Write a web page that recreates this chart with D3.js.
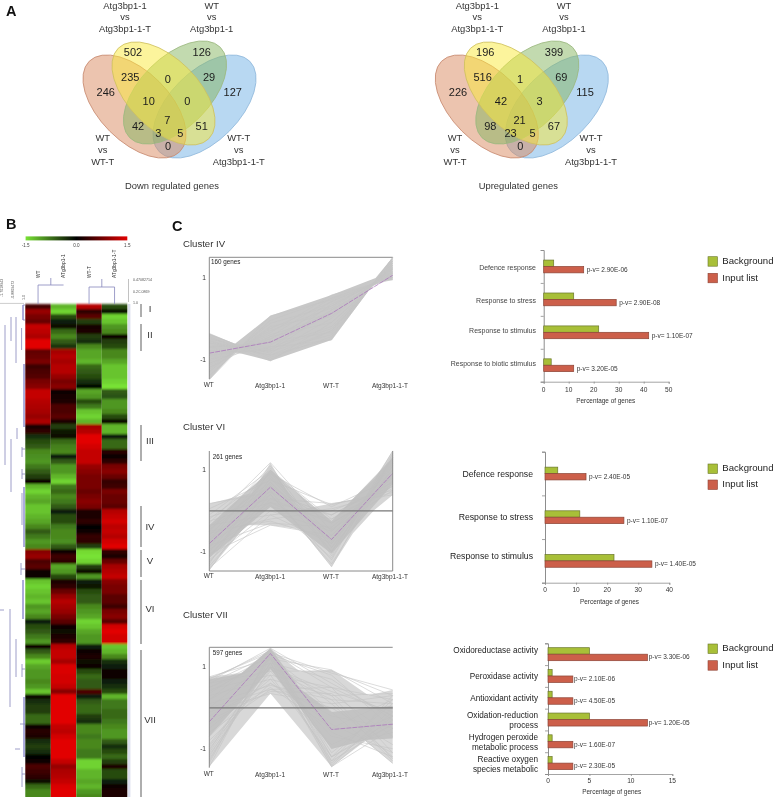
<!DOCTYPE html>
<html><head><meta charset="utf-8">
<script src="https://d3js.org/d3.v7.min.js"></script>
<style>
html,body{margin:0;padding:0;background:#fff}
svg{display:block;filter:blur(0.35px)}
text{font-family:"Liberation Sans",Arial,sans-serif;fill:#2a2a2a}
</style></head><body>
<svg id="c" width="775" height="797"></svg>
<script>
/* ---------- Venn data ---------- */
const vennSets = [
 ["WT","vs","WT-T"],
 ["Atg3bp1-1","vs","Atg3bp1-1-T"],
 ["WT","vs","Atg3bp1-1"],
 ["WT-T","vs","Atg3bp1-1-T"]];
const vennDown = [502,126,235,0,29,246,127,10,0,7,42,51,3,5,0];
const vennUp   = [196,399,516,1,69,226,115,42,3,21,98,67,23,5,0];
const vennTitles = ["Down regulated genes","Upregulated genes"];

/* ---------- Heatmap data (row by row, four columns) ---------- */
const heatSamples = ["WT","ATg3bp1-1","WT-T","ATg3bp1-1-T"];
const heatWT = [.45,1,.8,.7,1.3,1.25,1.15,1.5,1.5,.65,.7,.8,.4,.5,.55,.8,.9,1.3,1.3,1.2,1.15,
 1.1,1,1.15,.2,.3,-.3,-.5,-.6,-.9,-.95,-1,-.8,-.6,-.4,.05,-1.2,-1.4,-1.2,-1.1,-1.3,-1.3,-1.2,-1.1,-.9,-.6,-.8,-1,-.9,.9,1,.5,.6,.1,.1,-1.3,-1.4,-1.3,-1.2,
 -1.3,-1,-1.1,-.9,-.2,-.5,-.6,-.8,-1,.1,-.6,-.9,-1.35,-1.1,-1,-1,-.9,-1,-1.3,-.1,-.3,-.4,-.4,-.7,-.7,.1,.25,.2,-.3,-.4,-.3,0,.1,.5,.4,.3,-.1,-.7,-.9,-.9];
const heatAtg = [-1.2,-1.4,-.5,-.2,-.1,-.7,-.9,-.6,-.35,1.1,1.2,1.1,1.2,1.2,1,.8,.9,.1,.15,.2,.5,
 .5,.6,.2,-.4,-.15,-.1,-.7,-.85,-.9,-.2,-.6,-1,-1,-1.2,-1.4,-.8,-.7,-.9,-.8,-.6,-.2,-.5,-.5,-.8,-.9,-.9,-.95,-.6,.05,.4,.3,-1.1,-1,-.5,.2,.3,.7,1,
 1.2,1.1,1,.8,.6,.1,-.1,.2,.3,1.2,1.3,1.3,1.1,1.45,1.45,1.4,1.4,1.3,.9,1.5,1.5,1.5,1.5,1.5,1.5,1.3,1.25,1.4,1.5,1.5,1.5,1.5,1.3,1,1.15,1.2,1.3,1.45,1.5,1.5];
const heatWTT = [1.2,.3,.6,-.4,.15,.2,-.4,-.3,-.9,-1.1,-1.1,-1.2,-.7,-.6,-.5,-.3,-.05,-1.1,-1,-.5,-.8,
 -1.3,-1.4,-1.2,1.1,1.2,1.5,1.5,1.4,1.3,1.3,1.3,1,.9,.8,.8,.8,.7,.8,.9,.8,.2,.2,.3,0,.1,.35,.3,-.4,-1.45,-1.5,-1.4,-.4,-.1,-1,-.2,-.15,-.5,-.6,
 -.6,-.9,-1,-1.1,-1.4,-1.3,-1.1,-1,-1,-.2,.1,.2,-.1,.1,-.5,-.7,-.6,-.6,.5,-.2,-.6,-.7,-.7,-.4,-.3,-.9,-.9,-.8,-.9,-.9,-.8,-.8,-1.4,-1.4,-1.2,-1.2,-1.1,-1.2,-1,-.9];
const heatAtgT = [-.5,-.15,-1.4,-1.3,-1,-.9,.05,-.4,-.5,-.9,-.9,-1.1,-1.3,-1.3,-1.3,-1.4,-1.5,-.6,-.55,-1,-1,
 -.9,-.5,-.1,-1.2,-1.2,-.2,-.7,-.7,.25,.05,.3,.8,.9,.7,.35,.4,.8,.7,.7,.6,1.2,1.3,1.4,1.25,1.3,1.2,1.4,1.5,.3,.2,.7,1.1,1.2,1.3,.9,.8,.8,.6,
 .6,.4,.8,.9,.6,1.4,1.5,1.4,1.4,-1.3,-1.2,-.9,-.3,-.2,.05,.05,-.2,-.3,-.5,-1.2,-.8,-.8,-.7,-.7,-.8,-.9,-1,-1,-.6,-.3,-.5,-.7,-.4,.2,-.5,-.5,-.2,.1,.2,.2];
const heatColumns = [heatWT,heatAtg,heatWTT,heatAtgT];
const colorTicks = ["-1.5","0.0","1.5"];
const clusterNames  = ["I","II","III","IV","V","VI","VII"];
const clusterStart  = [0,4,24.2,40.4,49.2,55.2,69.2];
const clusterEnd    = [2.6,9.4,31.4,48.6,54.6,68,98.6];
/* dendrogram branches: [height, first row, last row] */
const rowBranches = [[20,4.2,32.2],[14,2.6,7.4],[9,2.6,11.8],[3.4,4.8,9.2],[2,.2,3.2],[1,12,24.6],[14,27,37.6],[8,24.8,27],[3,28.6,30.6],[3,33,35],[3,37.8,44.2],[1,36.6,48.6],[4,51.8,54.2],[2,55.2,63],[15,61,80.6],[9,67,74.6],[3,72,74.6],[1,78.6,90.6],[3,92.6,96.6]];
const rowStubs = [[21,25,61.2],[0,5,84],[5,10,89],[0,2,.2],[0,2,3.2],[0,3,29],[0,3,34],[0,4,53],[0,3,73],[0,3,94]];

/* ---------- Cluster profiles ---------- */
const profileX = ["WT","Atg3bp1-1","WT-T","Atg3bp1-1-T"];
const clusterTitles = ["Cluster IV","Cluster VI","Cluster VII"];
const geneCounts = ["160 genes","261 genes","597 genes"];
const linesIV = [[-.37,-1,-.3,1.35],[-.4,-.95,-.45,1.45],[-.45,-1.04,-.1,1.2],[-.5,-.85,0,1.25],[-.55,-.9,-.5,1.48],[-.6,-.8,.2,1.1],[-.65,-.75,.35,1.05],[-.7,-.7,-.2,1.3],[-.75,-.65,.1,1.2],[-.8,-.6,.42,1],[-.9,-.55,-.35,1.4],[-.95,-.5,.3,1.1],[-1,-.45,.5,1],[-1.05,-.4,.05,1.22],[-1.1,-.35,.57,.95],[-1.15,-.3,.25,1.15],[-1.2,-.25,.4,1.05],[-1.25,-.2,.1,1.2],[-1.3,-.12,.3,1.12],[-1.4,-.05,.48,1],[-1.5,.06,.45,.98],[-1,-.7,-.53,1.48],[-.8,-.8,-.4,1.4],[-.7,-.6,.2,1.1],[-1.1,-.5,.15,1.15],[-.9,-.75,-.25,1.3],[-1.2,-.45,-.1,1.25],[-.6,-.9,-.3,1.35]];
const linesVI = [[.18,.45,-.1,.7],[.05,.75,.15,.5],[-.1,1,-.2,.6],[-.15,.3,.18,.39],[-.2,.9,.1,.8],[-.3,1.18,-.5,1],[-.35,-.1,.05,.45],[-.45,.6,-.3,.55],[-.5,1.1,-.9,1.3],[-.55,-.2,0,.6],[-.6,.85,-.6,.9],[-.7,.2,-.1,.7],[-.75,1.05,-1.1,1.47],[-.85,-.3,-.4,.8],[-.9,.95,-1,1.2],[-.95,.1,-.2,.65],[-1,.7,-.8,1],[-1.05,-.35,-.6,.75],[-1.1,.5,-1.37,1.35],[-1.15,.8,-.7,1.1],[-1.2,0,-.5,.9],[-1.25,.4,-1.2,1.4],[-1.3,1,-.9,.9],[-1.35,.3,-.3,.6],[-1.45,.65,-1,1.25],[-1.4,-.1,-.8,1],[-.65,.4,-1.3,1.1],[-.4,.7,-.75,1.15],[-.25,.2,-.45,.5],[-.5,-.25,-.7,.85],[-.8,.15,-1.15,1.3]];
const linesVII = [[.76,1.2,.93,.1],[.72,1.35,.85,.44],[.65,1.46,.6,-.2],[.6,.9,.9,.3],[.5,1.1,.7,-.3],[.45,.8,.5,.2],[.35,1.3,.8,-.5],[.3,.7,.3,.35],[.2,1,.4,-.1],[.1,.55,.2,.1],[0,.45,.5,-.2],[-.1,.35,.1,.3],[-.2,.6,-.2,-.5],[-.3,.4,.35,-.7],[-.4,.5,-.5,.2],[-.5,.7,-.9,-.2],[-.6,.45,0,-.9],[-.7,.8,-1.2,-.3],[-.8,.6,-.4,-1.1],[-.9,1,-1.3,-.4],[-1,.9,-.7,-1],[-1.1,1.1,-1.44,-.5],[-1.2,1.2,-.1,-1.36],[-1.3,1.3,-1,-.6],[-1.44,1.4,-1.2,-.4],[-1.35,1.35,-.6,-1.2],[-1.25,1.1,-1.35,-.1],[-1.15,.95,.2,-1.3],[-1.05,1.25,-1.1,.1],[-.95,1,.3,-1.25],[.7,1.4,-1.4,0],[.6,1.3,-1.3,.3],[.4,1.2,-1.2,.2],[.2,1.4,.5,-1.1],[.5,1.25,.1,-1.2],[0,1.2,-1.44,-.2]];
/* outline of each bundle: [sample position, value] */
const upperIV  = [[0,-.37],[.42,-.62],[1,.06],[2,.57],[2.72,.98],[3,1.49]];
const lowerIV  = [[0,-1.5],[.42,-.82],[1,-1.04],[2,-.53],[2.72,.9],[3,.93]];
const upperVI  = [[0,.18],[.69,.43],[1,1.18],[1.45,.02],[2,.18],[2.33,.27],[2.71,.8],[3,1.47]];
const lowerVI  = [[0,-1.45],[.6,-.35],[1,-.35],[1.5,-.45],[2,-1.37],[2.35,-.55],[2.7,.02],[3,.39]];
const upperVII = [[0,.76],[.53,.86],[1,1.46],[1.48,.89],[2,.93],[2.6,.31],[3,.44]];
const lowerVII = [[0,-1.44],[1,.35],[2,-1.44],[2.55,-.81],[3,-1.36]];
const coreUpperVI  = [[0,-.35],[1,1],[2,-.25],[3,1.3]];
const coreLowerVI  = [[0,-1.15],[1,.1],[2,-1.05],[3,.65]];
const coreUpperVII = [[0,.7],[.53,.84],[1,1.46],[1.5,.45],[2,-.1],[3,.05]];
const coreLowerVII = [[0,-.7],[1,.95],[2,-1],[2.55,-.79],[3,-.75]];
const meanIV  = [-.85,-.58,.12,1.05];
const meanVI  = [-.8,.58,-.7,.92];
const meanVII = [-.34,1.33,-.53,-.4];

/* ---------- Enrichment bars ---------- */
const barCats1 = ["Defence response","Response to stress","Response to stimulus","Response to biotic stimulus"];
const barBg1   = [4,12,22,3];
const barIn1   = [16,29,42,12];
const barP1    = ["2.90E-06","2.90E-08","1.10E-07","3.20E-05"];
const barTicks1 = [0,10,20,30,40,50];
const barCats2 = ["Defence response","Response to stress","Response to stimulus"];
const barBg2   = [4.1,11.2,22.2];
const barIn2   = [13.2,25.4,34.4];
const barP2    = ["2.40E-05","1.10E-07","1.40E-05"];
const barTicks2 = [0,10,20,30,40];
const barCats3 = ["Oxidoreductase activity","Peroxidase activity","Antioxidant activity","Oxidation-reduction|process","Hydrogen peroxide|metabolic process","Reactive oxygen|species metabolic"];
const barBg3   = [5,.5,.5,5,.5,.5];
const barIn3   = [12,3,3,12,3,3];
const barP3    = ["3.30E-06","2.10E-06","4.50E-05","1.20E-05","1.60E-07","2.30E-05"];
const barTicks3 = [0,5,10,15];
const legendNames = ["Background","Input list"];

/* ========== drawing ========== */
const svg = d3.select("#c");
const label=(g,x,y,t,size,anchor="start",fill=null,weight=null)=>{
  const e=g.append("text").attr("x",x).attr("y",y).attr("font-size",size).attr("text-anchor",anchor).text(t);
  if(fill)e.style("fill",fill); if(weight)e.attr("font-weight",weight); return e;};
const panelLetter=(x,y,t)=>label(svg,x,y,t,14.5,"start","#111","bold");
panelLetter(6,16,"A");panelLetter(6,229,"B");panelLetter(172,231,"C");

/* Venn */
const vennEll=[{cx:204.5,cy:106.5,rot:-45,fill:"#71b1e5",stroke:"#90b8dc"},
               {cx:134.5,cy:106.5,rot:45,fill:"#d98a60",stroke:"#c88a70"},
               {cx:175,cy:92.5,rot:-45,fill:"#85b560",stroke:"#9cb880"},
               {cx:163.5,cy:93.5,rot:45,fill:"#f9e939",stroke:"#cfc060"}];
const vennPos=[[133,51.7],[201.7,51.7],[130.3,77],[167.7,79],[209,77],[105.7,92],[232.7,92],[148.7,101],[187.3,101],[167.3,120],[138,126],[201.7,126],[158.3,133.3],[180.3,133.3],[168,146]];
const vennLabelPos=[[102.7,140.7],[125,8.5],[211.7,8.5],[238.7,140.7]];
[vennDown,vennUp].forEach((vals,k)=>{
  const g=svg.append("g").attr("transform",`translate(${k*352.3},0)`);
  vennEll.forEach(e=>{
    g.append("ellipse").attr("rx",64).attr("ry",35)
     .attr("transform",`translate(${e.cx},${e.cy}) rotate(${e.rot})`)
     .attr("fill",e.fill).attr("fill-opacity",.5).attr("stroke",e.stroke).attr("stroke-width",.8);
  });
  vals.forEach((v,i)=>label(g,vennPos[i][0],vennPos[i][1]+3.8,v,11,"middle","#1c1c1c"));
  vennSets.forEach((lines,i)=>lines.forEach((t,j)=>label(g,vennLabelPos[i][0],vennLabelPos[i][1]+j*11.9,t,9.4,"middle","#333")));
  label(g,k?166:172,189.3,vennTitles[k],9.4,"middle","#333");
});

/* Heatmap */
const color=d3.scaleLinear().domain([-1.5,0,1.5]).range(["#78e234","#000000","#e20000"]);
const nRows=heatWT.length;
const xCol=d3.scaleBand().domain(heatSamples).range([25.3,127.3]);
const yRow=d3.scaleLinear().domain([0,nRows]).range([304,304+5*nRows]);
const xDist=d3.scaleLinear().domain([0,25]).range([25,0]);
const heatClip=svg.append("clipPath").attr("id","hc");
heatClip.append("rect").attr("x",0).attr("y",200).attr("width",175).attr("height",597);
const hm=svg.append("g").attr("clip-path","url(#hc)");
const hblur=svg.append("filter").attr("id","hb").attr("x",-.02).attr("width",1.04);
hblur.append("feGaussianBlur").attr("stdDeviation","0 0.8");
const soft=svg.append("filter").attr("id","soft");
soft.append("feGaussianBlur").attr("stdDeviation","0.5");
const hmCells=hm.append("g").attr("filter","url(#hb)");
heatColumns.forEach((col,c)=>{
  hmCells.selectAll(null).data(col).join("rect")
    .attr("x",xCol(heatSamples[c])).attr("width",xCol.bandwidth())
    .attr("y",(d,i)=>yRow(i)).attr("height",(d,i)=>yRow(i+1)-yRow(i)+.3)
    .attr("fill",d=>color(d));
});
hm.append("rect").attr("x",128).attr("y",304).attr("width",2.4).attr("height",493).attr("fill","#dcdfee");
const dendro="#8585bb";
const seg=(g,x1,y1,x2,y2,c=dendro,w=.8)=>g.append("line").attr("x1",x1).attr("y1",y1).attr("x2",x2).attr("y2",y2).attr("stroke",c).attr("stroke-width",w);
rowBranches.forEach(([h,a,b])=>seg(hm,xDist(h),yRow(a),xDist(h),yRow(b),h<=2?"#5a5ab8":dendro,h<=2?1:.8));
rowStubs.forEach(([h1,h2,r])=>seg(hm,xDist(h1),yRow(r),xDist(h2),yRow(r)));
/* column dendrogram */
const colC=s=>xCol(s)+xCol.bandwidth()/2;
seg(svg,colC("WT"),285,colC("ATg3bp1-1"),285);seg(svg,colC("WT"),285,colC("WT"),304);seg(svg,(colC("WT")+colC("ATg3bp1-1"))/2,278,(colC("WT")+colC("ATg3bp1-1"))/2,285);
seg(svg,colC("WT-T"),287,colC("ATg3bp1-1-T"),287);seg(svg,colC("WT-T"),287,colC("WT-T"),304);seg(svg,colC("ATg3bp1-1-T"),287,colC("ATg3bp1-1-T"),304);
seg(svg,(colC("WT-T")+colC("ATg3bp1-1-T"))/2,279,(colC("WT-T")+colC("ATg3bp1-1-T"))/2,287);
heatSamples.forEach(s=>{
  label(svg,0,0,s,4.9,"start","#333").attr("transform",`translate(${colC(s)+1.5},278) rotate(-90)`);
});
/* colour bar */
const barX=d3.scaleLinear().domain([-1.5,1.5]).range([25.6,127.3]);
const grad=svg.append("linearGradient").attr("id","cb");
color.domain().forEach(d=>grad.append("stop").attr("offset",(d+1.5)/3).attr("stop-color",color(d)));
svg.append("rect").attr("x",barX(-1.5)).attr("y",236.4).attr("width",barX(1.5)-barX(-1.5)).attr("height",4).attr("fill","url(#cb)");
colorTicks.forEach(t=>label(svg,barX(+t),247,t,4.6,"middle","#444"));
/* small scales around the heat map */
seg(svg,128.5,279,128.5,302,"#999",.6);
[["0.47082714",281],["0.2C.0869",292.5],["1.0",304]].forEach(d=>label(svg,133,d[1],d[0],3.6,"start","#555"));
seg(svg,0,303.4,24,303.4,"#aaa",.6);
[["-1.7018943",2.5,297],["-0.8809472",13.5,299],["1.0",25,300]].forEach(d=>label(svg,0,0,d[0],3.6,"start","#555").attr("transform",`translate(${d[1]},${d[2]}) rotate(-90)`));
/* cluster brackets */
const clusterLabelY=[312,338,444,530,564,612,723];
clusterNames.forEach((n,i)=>{
  seg(svg,141,yRow(clusterStart[i]),141,yRow(clusterEnd[i]),"#8c8c8c",1.4);
  label(svg,150,clusterLabelY[i],n,9.6,"middle","#333");
});

/* Cluster profile plots */
const plots=[
 {top:257.3,bot:379,one:277.3,minus:359.3,lines:linesIV,mean:meanIV,zero:false,frame:"tl",gy:264,gx:211,ty:247,xl:387.7,up:upperIV,lo:lowerIV,shade:"#c8c8c8"},
 {top:451,bot:571,one:470,minus:551.7,lines:linesVI,mean:meanVI,zero:true,frame:"lbr",gy:459,gx:212.7,ty:430,xl:579,up:upperVI,lo:lowerVI,shade:"#d6d6d6",cu:coreUpperVI,cl:coreLowerVI},
 {top:647.3,bot:767.7,one:667,minus:748.7,lines:linesVII,mean:meanVII,zero:true,frame:"tl",gy:655,gx:212.7,ty:618,xl:776.7,up:upperVII,lo:lowerVII,shade:"#d8d8d8",cu:coreUpperVII,cl:coreLowerVII}];
const xProf=d3.scalePoint().domain(profileX).range([209.3,392.7]);
const xPos=d3.scaleLinear().domain([0,3]).range([209.3,392.7]);
const profLabelX=[208.7,270,331,390];
plots.forEach((p,k)=>{
  const y=d3.scaleLinear().domain([-1,1]).range([p.minus,p.one]);
  const g=svg.append("g");
  const line=d3.line().x((d,i)=>xProf(profileX[i])).y(d=>y(d));
  const outline=d3.line().x(d=>xPos(d[0])).y(d=>y(d[1]));
  const band=(u,l)=>outline(u.concat(l.slice().reverse()))+"Z";
  const bundle=g.append("g").attr("filter","url(#soft)");
  bundle.append("path").attr("d",band(p.up,p.lo)).attr("fill",p.shade);
  bundle.selectAll("path.l").data(p.lines).join("path").attr("class","l").attr("d",line)
    .attr("fill","none").attr("stroke","#c4c4c4").attr("stroke-width",.6);
  if(p.cu)bundle.append("path").attr("d",band(p.cu,p.cl)).attr("fill","#bebebe").attr("fill-opacity",.8);
  g.append("path").attr("d",line(p.mean)).attr("fill","none").attr("stroke","#ab75bb").attr("stroke-width",.8).attr("stroke-dasharray","5 1");
  const fr="#8a8a8a";
  seg(g,209.3,p.top,209.3,p.bot,fr,1);
  if(p.frame.includes("t"))seg(g,209.3,p.top,392.7,p.top,fr,1);
  if(p.frame.includes("b"))seg(g,209.3,p.bot,392.7,p.bot,fr,1);
  if(p.frame.includes("r"))seg(g,392.7,p.top,392.7,p.bot,fr,1);
  if(p.zero)seg(g,209.3,y(0),392.7,y(0),"#777",1.3);
  [1,-1].forEach(v=>label(g,206,y(v)+2.4,v,6.6,"end","#333"));
  profileX.forEach((n,i)=>label(g,profLabelX[i],p.xl-(i==0?1:0),n,6.5,"middle","#333"));
  label(g,p.gx,p.gy,geneCounts[k],6.3,"start","#222");
  label(g,183,p.ty,clusterTitles[k],9.6,"start","#333");
});

/* Bars */
const legendGreen="#a8bf38",legendRed="#cc5f4a";
const charts=[
 {cats:barCats1,bg:barBg1,inp:barIn1,p:barP1,ticks:barTicks1,x0:543.7,x1:668.7,top:250,bot:381.7,bh:6.4,lf:7,lr:536,lo:[4,3.5,1,1],pg:3,max:50,tb:391.7,tc:605.7,tby:403.3,leg:[256.7,273.3,264,280.7],lc:"#444"},
 {cats:barCats2,bg:barBg2,inp:barIn2,p:barP2,ticks:barTicks2,x0:545,x1:669.3,top:451.7,bot:582.7,bh:6.4,lf:8.7,lr:533,lo:[3,3,-2],pg:3,max:40,tb:591.7,tc:609.5,tby:603.7,leg:[464,480,470.7,487.3],lc:"#222"},
 {cats:barCats3,bg:barBg3,inp:barIn3,p:barP3,ticks:barTicks3,x0:548,x1:672.3,top:643.3,bot:774,bh:6.5,lf:8.2,lr:538,lo:[-1.3,3,3.5,-1.5,-1,-1],pg:1.2,max:15,tb:783.3,tc:611.8,tby:794,leg:[644,660.7,650.7,667.7],lc:"#222"}];
charts.forEach(c=>{
  const g=svg.append("g");
  const x=d3.scaleLinear().domain([0,c.max]).range([c.x0,c.x1]);
  const y=d3.scaleBand().domain(c.cats).range([c.top,c.bot]);
  const edge=d3.scaleLinear().domain([0,c.cats.length]).range([c.top,c.bot]);
  const ax=g.append("g").attr("transform",`translate(0,${c.bot})`).call(d3.axisBottom(x).tickValues(c.ticks).tickSize(2).tickFormat(""));
  const ay=g.append("g").attr("transform",`translate(${c.x0},0)`).call(d3.axisLeft(edge).ticks(c.cats.length).tickSize(3).tickFormat(""));
  [ax,ay].forEach(a=>{a.selectAll("path,line").attr("stroke","#8d8d8d").attr("stroke-width",.8);});
  ay.select("path").attr("stroke-width",1);
  c.ticks.forEach(t=>label(g,x(t),c.tb,t,6.6,"middle","#333"));
  label(g,c.tc,c.tby,"Percentage of genes",6.4,"middle","#333");
  c.cats.forEach((n,i)=>{
    const mid=y(n)+y.bandwidth()/2;
    g.append("rect").attr("x",x(0)).attr("y",mid-c.bh).attr("width",x(c.bg[i])-x(0)).attr("height",c.bh)
      .attr("fill",legendGreen).attr("stroke","#69762a").attr("stroke-width",.7);
    g.append("rect").attr("x",x(0)).attr("y",mid).attr("width",x(c.inp[i])-x(0)).attr("height",c.bh)
      .attr("fill",legendRed).attr("stroke","#8c4436").attr("stroke-width",.7);
    label(g,x(c.inp[i])+c.pg,mid+5.3,"p-v= "+c.p[i],6.5,"start","#333");
    n.split("|").forEach((part,j)=>label(g,c.lr,mid+c.lo[i]+j*9.5,part,c.lf,"end",c.lc));
  });
  legendNames.forEach((n,i)=>{
    g.append("rect").attr("x",708).attr("y",c.leg[i]).attr("width",9.5).attr("height",9.5)
      .attr("fill",i?legendRed:legendGreen).attr("stroke",i?"#8c4436":"#69762a").attr("stroke-width",.6);
    label(g,722.3,c.leg[i+2],n,9.6,"start","#222");
  });
});
</script>
</body></html>
